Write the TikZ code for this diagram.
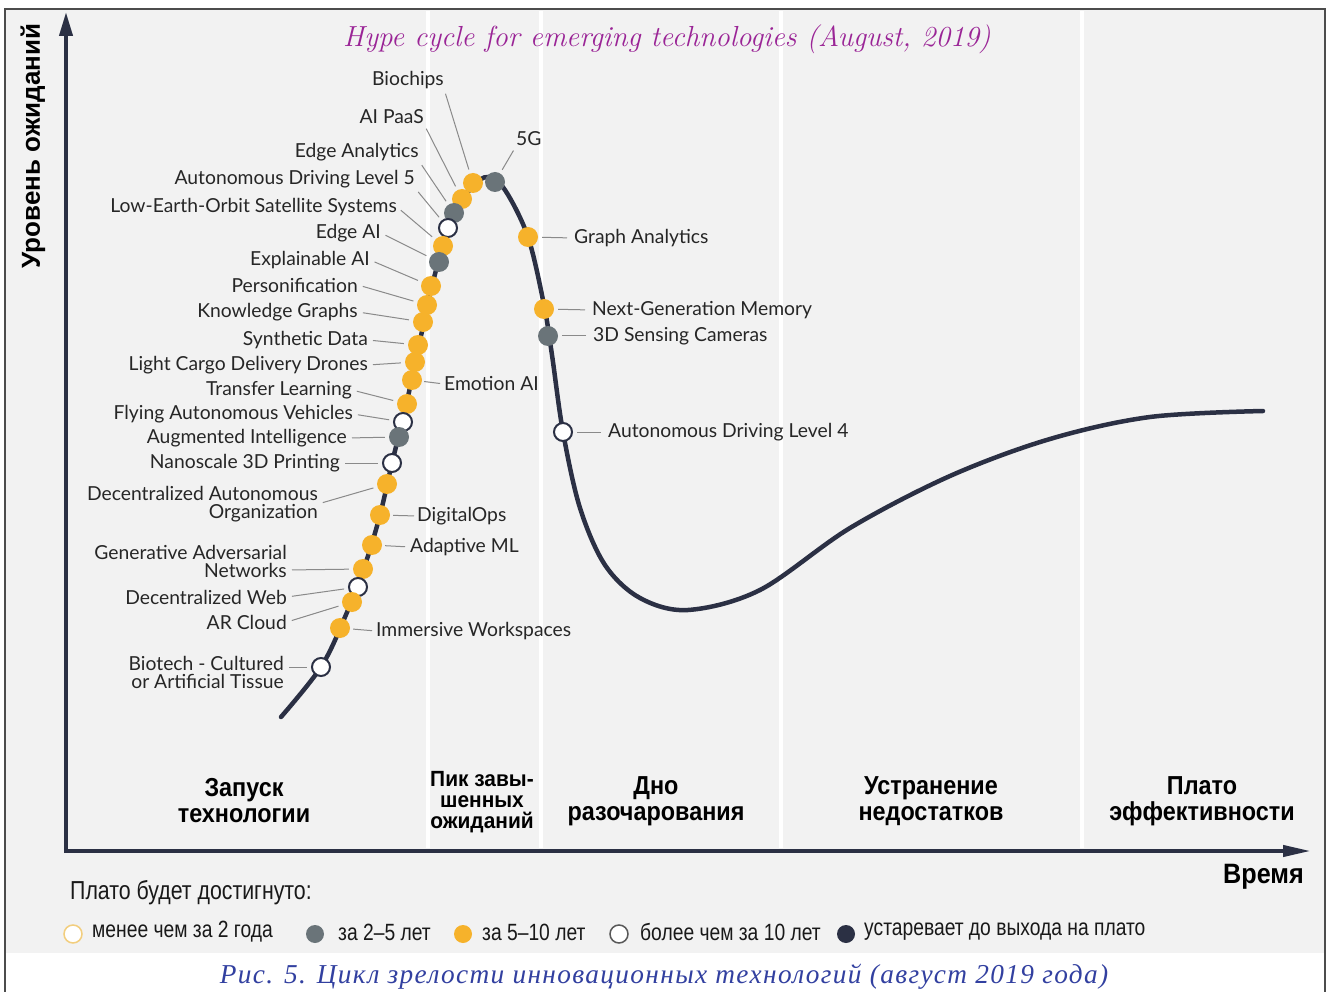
\documentclass[tikz,border=0pt]{standalone}
\usepackage{fontspec}
\usetikzlibrary{arrows.meta}
\newfontfamily\lblfont{Lato}
\newfontfamily\narrowfont[FakeStretch=0.82]{Liberation Sans}
\newfontfamily\phasefont[FakeStretch=0.9]{Liberation Sans}
\newfontfamily\peakfont[FakeStretch=0.95]{Liberation Sans}
\newfontfamily\boldsans{Liberation Sans}
\newfontfamily\capfont[LetterSpace=5]{Liberation Serif}
\definecolor{navy}{HTML}{2B3044}
\definecolor{hcorange}{HTML}{F6B22B}
\definecolor{hcgrey}{HTML}{6A7479}
\definecolor{panel}{HTML}{F2F2F2}
\definecolor{leadgray}{HTML}{8A8A8A}
\definecolor{titlepurple}{HTML}{9A2496}
\definecolor{capblue}{HTML}{3240A0}
\definecolor{ringorange}{HTML}{F2CE7E}
\tikzset{
  dotbase/.style={circle, inner sep=0pt, minimum size=20pt},
  dotO/.style={dotbase, fill=hcorange},
  dotG/.style={dotbase, fill=hcgrey},
  dotW/.style={dotbase, fill=white, draw=navy, line width=2pt, minimum size=18pt},
  lbl/.style={font=\lblfont\fontsize{19.3}{18}\selectfont, text=black!85, inner sep=0pt},
  lblL/.style={lbl, anchor=east, align=right},
  lblR/.style={lbl, anchor=west, align=left},
  leader/.style={draw=leadgray, line width=1pt, shorten >=4pt, shorten <=5pt},
  phase/.style={font=\phasefont\bfseries\fontsize{26}{26}\selectfont, align=center, inner sep=0pt},
  legtext/.style={font=\narrowfont\fontsize{23.5}{23.5}\selectfont, anchor=west, inner sep=0pt, text=black!90},
  legdot/.style={circle, inner sep=0pt, minimum size=18pt},
  axis/.style={navy, line width=4pt},
  separator/.style={white, line width=4pt},
}
\begin{document}
\begin{tikzpicture}[x=1pt, y=-1pt]
\useasboundingbox (0,0) rectangle (1326,992);
% panel and frame
\fill[white] (0,0) rectangle (1326,992);
\fill[panel] (6,10) rectangle (1324,953);
\draw[black!70, line width=1.5pt] (5,992) -- (5,9) -- (1325,9) -- (1325,992);
% phase separators
\foreach \sx in {428,541,781,1082} \draw[separator] (\sx,11) -- (\sx,848);

% title
\node[font=\fontsize{29}{29}\selectfont\itshape\addfontfeatures{LetterSpace=6}, text=titlepurple] (title) at (667,39) {Hype cycle for emerging technologies (August, 2019)};

% axes
\coordinate (origin) at (66,851);
\coordinate (ytop) at (66,12);
\coordinate (xend) at (1311,851);
\draw[axis, -{Triangle[length=24pt, width=13pt]}] (origin) -- (ytop);
\draw[axis, -{Triangle[length=28pt, width=11pt]}] (64,851) -- (xend);
\node[rotate=90, font=\boldsans\bfseries\fontsize{26}{26}\selectfont] (ylab) at (33,146) {Уровень ожиданий};
\node[font=\phasefont\bfseries\fontsize{28}{28}\selectfont, anchor=east, inner sep=0pt] (xlab) at (1304,877) {Время};

% the hype curve
\draw[navy, line width=4.5pt, line cap=round] plot[smooth, tension=0.55] coordinates {
  (281,717) (321,667) (345,617) (365,565) (380,515) (392,463) (405,410)
  (418,350) (431,290) (443,246) (456,211) (473,186) (488,177) (505,190)
  (528,237) (544,305) (552,355) (563,432) (580,508) (605,565) (640,598)
  (688,610) (760,590) (850,528) (950,476) (1050,439) (1150,417) (1263,411)};

% technology markers
\node[dotO] (biochips) at (473,183) {};
\node[dotO] (aipaas) at (462,199) {};
\node[dotG] (edgean) at (454,213) {};
\node[dotW] (adl5) at (448,228) {};
\node[dotO] (leo) at (443,246) {};
\node[dotG] (edgeai) at (439,262) {};
\node[dotO] (explai) at (431,286) {};
\node[dotO] (person) at (427,305) {};
\node[dotO] (kgraph) at (423,322) {};
\node[dotO] (synth) at (418,345) {};
\node[dotO] (cargo) at (415,362) {};
\node[dotO] (emotion) at (412,380) {};
\node[dotO] (transfer) at (407,404) {};
\node[dotW] (flying) at (403,422) {};
\node[dotG] (augint) at (399,437) {};
\node[dotW] (nano) at (392,463) {};
\node[dotO] (dao) at (387,484) {};
\node[dotO] (digops) at (380,515) {};
\node[dotO] (adaptml) at (372,545) {};
\node[dotO] (gan) at (363,569) {};
\node[dotW] (decweb) at (358,587) {};
\node[dotO] (arcloud) at (352,602) {};
\node[dotO] (immersive) at (340,628) {};
\node[dotW] (biotech) at (321,667) {};
\node[dotG] (fiveg) at (495,182) {};
\node[dotO] (graphan) at (528,237) {};
\node[dotO] (ngm) at (544,309) {};
\node[dotG] (sensing) at (548,336) {};
\node[dotW] (adl4) at (563,432) {};

% labels on the left
\node[lblL] (tbiochips) at (444,80) {Biochips};
\node[lblL] (taipaas) at (424,117) {AI PaaS};
\node[lblL] (tedgean) at (419,152) {Edge Analytics};
\node[lblL] (tadl5) at (415,179) {Autonomous Driving Level 5};
\node[lblL] (tleo) at (397,207) {Low-Earth-Orbit Satellite Systems};
\node[lblL] (tedgeai) at (381,233) {Edge AI};
\node[lblL] (texplai) at (370,260) {Explainable AI};
\node[lblL] (tperson) at (358,285) {Personification};
\node[lblL] (tkgraph) at (358,312) {Knowledge Graphs};
\node[lblL] (tsynth) at (368,340) {Synthetic Data};
\node[lblL] (tcargo) at (368,365) {Light Cargo Delivery Drones};
\node[lblL] (ttransfer) at (352,390) {Transfer Learning};
\node[lblL] (tflying) at (353,414) {Flying Autonomous Vehicles};
\node[lblL] (taugint) at (347,438) {Augmented Intelligence};
\node[lblL] (tnano) at (340,463) {Nanoscale 3D Printing};
\node[lblL] (tdao) at (318,504) {Decentralized Autonomous\\Organization};
\node[lblL] (tgan) at (287,561) {Generative Adversarial\\Networks};
\node[lblL] (tdecweb) at (287,597) {Decentralized Web};
\node[lblL] (tarcloud) at (287,622) {AR Cloud};
\node[lblL] (tbiotech) at (284,672) {Biotech - Cultured\\or Artificial Tissue};

% labels on the right
\node[lblR] (tfiveg) at (516,139) {5G};
\node[lblR] (tgraphan) at (574,238) {Graph Analytics};
\node[lblR] (tngm) at (592,310) {Next-Generation Memory};
\node[lblR] (tsensing) at (593,336) {3D Sensing Cameras};
\node[lblR] (temotion) at (444,384) {Emotion AI};
\node[lblR] (tadl4) at (608,432) {Autonomous Driving Level 4};
\node[lblR] (tdigops) at (417,516) {DigitalOps};
\node[lblR] (tadaptml) at (410,547) {Adaptive ML};
\node[lblR] (timmersive) at (376,631) {Immersive Workspaces};

% leader lines
\draw[leader] (tbiochips.south east) -- (biochips);
\draw[leader] (taipaas.south east) -- (aipaas);
\draw[leader] (tedgean.south east) -- (edgean);
\draw[leader] (tadl5.south east) -- (adl5);
\draw[leader] (tleo.east) -- (leo);
\draw[leader] (tedgeai.east) -- (edgeai);
\draw[leader] (texplai.east) -- (explai);
\draw[leader] (tperson.east) -- (person);
\draw[leader] (tkgraph.east) -- (kgraph);
\draw[leader] (tsynth.east) -- (synth);
\draw[leader] (tcargo.east) -- (cargo);
\draw[leader] (ttransfer.east) -- (transfer);
\draw[leader] (tflying.east) -- (flying);
\draw[leader] (taugint.east) -- (augint);
\draw[leader] (tnano.east) -- (nano);
\draw[leader] (tdao.east) -- (dao);
\draw[leader] ([yshift=-9pt]tgan.east) -- (gan);
\draw[leader] (tdecweb.east) -- (decweb);
\draw[leader] (tarcloud.east) -- (arcloud);
\draw[leader] ([yshift=5pt]tbiotech.east) -- (biotech);
\draw[leader] (tfiveg.south west) -- (fiveg);
\draw[leader, shorten <=7pt] (tgraphan.west) -- (graphan);
\draw[leader, shorten <=7pt] (tngm.west) -- (ngm);
\draw[leader, shorten <=7pt] (tsensing.west) -- (sensing);
\draw[leader, shorten <=4pt, shorten >=2pt] (temotion.west) -- (emotion);
\draw[leader, shorten <=7pt] (tadl4.west) -- (adl4);
\draw[leader, shorten <=3pt, shorten >=3pt] (tdigops.west) -- (digops);
\draw[leader, shorten <=5pt, shorten >=3pt] (tadaptml.west) -- (adaptml);
\draw[leader, shorten <=4pt, shorten >=3pt] (timmersive.west) -- (immersive);

% phase names
\node[phase] (ph1) at (244,801) {Запуск\\технологии};
\node[phase, font=\peakfont\bfseries\fontsize{22}{21}\selectfont] (ph2) at (482,802) {Пик завы-\\шенных\\ожиданий};
\node[phase] (ph3) at (656,801) {Дно\\разочарования};
\node[phase] (ph4) at (931,801) {Устранение\\недостатков};
\node[phase] (ph5) at (1202,801) {Плато\\эффективности};

% legend
\node[legtext, font=\narrowfont\fontsize{26}{26}\selectfont] (leghead) at (70,893) {Плато будет достигнуто:};
\node[legdot, fill=white, draw=ringorange, line width=1.5pt] (lg1) at (73,934) {};
\node[legtext] (lt1) at (92,932) {менее чем за 2 года};
\node[legdot, fill=hcgrey] (lg2) at (315,934) {};
\node[legtext] (lt2) at (338,932) {за 2–5 лет};
\node[legdot, fill=hcorange] (lg3) at (463,934) {};
\node[legtext] (lt3) at (482,932) {за 5–10 лет};
\node[legdot, fill=white, draw=black!65, line width=1.5pt] (lg4) at (619,934) {};
\node[legtext] (lt4) at (640,932) {более чем за 10 лет};
\node[legdot, fill=navy] (lg5) at (846,934) {};
\node[legtext] (lt5) at (864,932) {устаревает до выхода на плато};

% caption
\node[font=\capfont\itshape\fontsize{27.3}{27.3}\selectfont, text=capblue] (caption) at (664,977) {Рис. 5. Цикл зрелости инновационных технологий (август 2019 года)};
\end{tikzpicture}
\end{document}
